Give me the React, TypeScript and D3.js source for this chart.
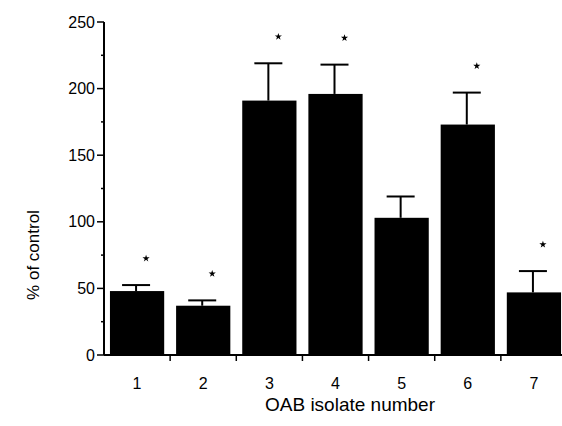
import React from "react";
import * as d3 from "d3";

const categories = ["1", "2", "3", "4", "5", "6", "7"];
const values = [48, 37, 191, 196, 103, 173, 47];
const sem = [4.5, 4, 28, 22, 16, 24, 16];
const significant = [true, true, true, true, false, true, true];
const yTicks = [0, 50, 100, 150, 200, 250];
const yMinorTicks = [25, 75, 125, 175, 225];

const W = 562;
const H = 426;
const left = 104;
const right = 567;
const top = 22;
const bottom = 355;
const font = "'Liberation Sans', Arial, Helvetica, sans-serif";

export default function App() {
  const x = d3.scaleBand<string>().domain(categories).range([left, right]).paddingInner(0.18).paddingOuter(0.09);
  const y = d3.scaleLinear().domain([0, 250]).range([bottom, top]);
  const step = x.step();
  const boundaries = categories.map((_, i) => left + step * (i + 1));
  return (
    <svg width={W} height={H} style={{ position: "absolute", left: 0, top: 0, background: "#fff" }}>
      {categories.map((c, i) => {
        const bx = x(c)!;
        const cx = bx + x.bandwidth() / 2;
        const yTop = y(values[i] + sem[i]);
        return (
          <g key={c}>
            <rect x={bx} y={y(values[i])} width={x.bandwidth()} height={bottom - y(values[i])} fill="#000" />
            <line x1={cx - 1} x2={cx - 1} y1={y(values[i])} y2={yTop} stroke="#000" strokeWidth={2} />
            <line x1={cx - 15} x2={cx + 13} y1={yTop} y2={yTop} stroke="#000" strokeWidth={2} />
            {significant[i] && (
              <path d={d3.symbol(d3.symbolStar, 16)()!} transform={`translate(${cx + 9},${y(values[i] + sem[i] + 20)})`} fill="#000" />
            )}
          </g>
        );
      })}
      <line x1={left} x2={left} y1={top} y2={bottom} stroke="#000" strokeWidth={2} />
      <line x1={left} x2={W} y1={bottom} y2={bottom} stroke="#000" strokeWidth={2} />
      {yTicks.map((t) => (
        <g key={t}>
          <line x1={left - 7} x2={left} y1={y(t)} y2={y(t)} stroke="#000" strokeWidth={1.5} />
          <text x={95} y={y(t)} dy="0.35em" textAnchor="end" fontFamily={font} fontSize={16} fill="#000">{t}</text>
        </g>
      ))}
      {yMinorTicks.map((t) => (
        <line key={t} x1={left - 3} x2={left} y1={y(t)} y2={y(t)} stroke="#000" strokeWidth={1.5} />
      ))}
      {boundaries.map((b, i) => (
        <line key={i} x1={b} x2={b} y1={bottom} y2={bottom + 6} stroke="#000" strokeWidth={1.5} />
      ))}
      {categories.map((c) => (
        <text key={c} x={x(c)! + x.bandwidth() / 2} y={389} textAnchor="middle" fontFamily={font} fontSize={16} fill="#000">{c}</text>
      ))}
      <text x={350} y={411} textAnchor="middle" fontFamily={font} fontSize={19} fill="#000">OAB isolate number</text>
      <text transform={`translate(39,255) rotate(-90)`} textAnchor="middle" fontFamily={font} fontSize={17} fill="#000">% of control</text>
    </svg>
  );
}
